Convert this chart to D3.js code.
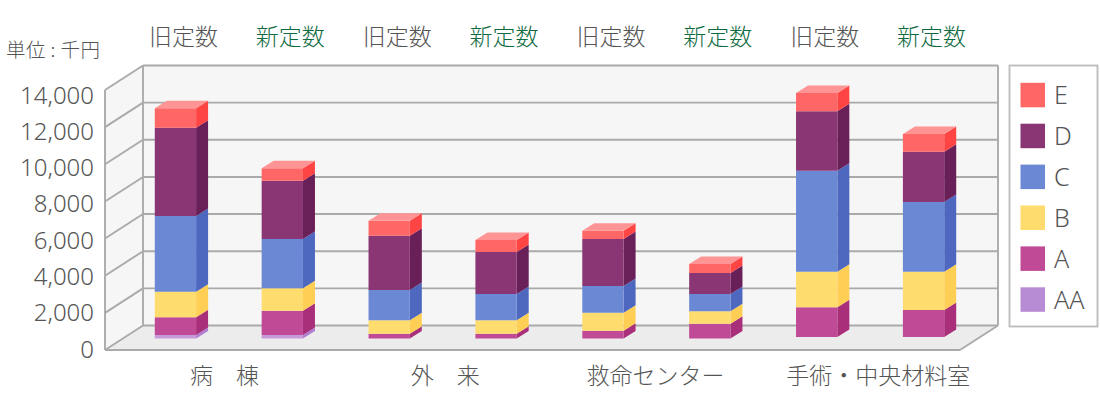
<!DOCTYPE html>
<html><head><meta charset="utf-8">
<script src="https://d3js.org/d3.v7.min.js"></script>
<style>
html,body{margin:0;padding:0;background:#fff}
svg{display:block}
text{font-family:"Noto Sans CJK JP","Noto Sans",sans-serif;font-weight:300;fill:#555}
</style></head><body><div id="c"></div>
<script>
const seriesNames=["AA","A","B","C","D","E"];
const barLabels=["旧定数","新定数","旧定数","新定数","旧定数","新定数","旧定数","新定数"];
const groupLabels=["病　棟","外　来","救命センター","手術・中央材料室"];
const groupLabelShift=[12.5,19.5,16,25];
const valuesAA=[190,190,0,0,0,0,0,0];
const valuesA=[950,1310,260,260,420,800,1600,1455];
const valuesB=[1380,1205,720,720,970,670,1915,2060];
const valuesC=[4075,2655,1630,1415,1440,930,5440,3755];
const valuesD=[4755,3140,2925,2260,2530,1130,3200,2710];
const valuesE=[1045,670,810,645,445,485,985,955];
const stackStart=[0,0,0,0,0,0,80,80];
const yTicks=[0,2000,4000,6000,8000,10000,12000,14000];
const colorsFront=["#c79bd9","#c04a96","#ffdc6e","#6a88d3","#8a3574","#ff6666"];
const colorsSide=["#b07fd0","#aa2f7a","#ffcf55","#4e68bf","#692058","#ff4444"];
const topColor="#ff9494";
const legendColors=["#b88cd4","#c04a96","#ffdc6e","#6a88d3","#8a3574","#ff6666"];

const W=1100,H=402;
const left=105,right=960,floorY=350,topY=90,dx=38,dy=-24.5;
const svg=d3.select("#c").append("svg").attr("width",W).attr("height",H);
const y=d3.scaleLinear().domain([0,14000]).range([floorY,topY]);
const yLabel=d3.scaleLinear().domain([0,14000]).range([348.5,94.5]);
const x=d3.scaleBand().domain(d3.range(8)).range([left,right]);
const grid="#aaa";
const poly=(pts,fill,stroke)=>svg.append("polygon").attr("points",pts.map(p=>p.join(",")).join(" "))
  .attr("fill",fill).attr("stroke",stroke||"none").attr("stroke-width",stroke?1:0);
// walls & floor
poly([[left+dx,y(14000)+dy],[right+dx,y(14000)+dy],[right+dx,y(0)+dy],[left+dx,y(0)+dy]],"#f6f6f6");
poly([[left,y(14000)],[left+dx,y(14000)+dy],[left+dx,y(0)+dy],[left,y(0)]],"#f6f6f6");
poly([[left,y(0)],[left+dx,y(0)+dy],[right+dx,y(0)+dy],[right,y(0)]],"#ececec");
const line=(x1,y1,x2,y2)=>svg.append("line").attr("x1",x1).attr("y1",y1).attr("x2",x2).attr("y2",y2)
  .attr("stroke",grid).attr("stroke-width",1.9);
yTicks.forEach(t=>{
  line(left+dx,y(t)+dy,right+dx,y(t)+dy);
  line(left,y(t),left+dx,y(t)+dy);
});
line(left,y(0),left,y(14000));
line(left+dx,y(0)+dy,left+dx,y(14000)+dy);
line(right+dx,y(0)+dy,right+dx,y(14000)+dy);
line(left,y(0),right,y(0));
line(right,y(0),right+dx,y(0)+dy);

// y axis labels
const yAxis=d3.axisLeft(yLabel).tickValues(yTicks).tickSize(0).tickPadding(0).tickFormat(d3.format(","));
const gy=svg.append("g").attr("transform",`translate(94,0)`).call(yAxis);
gy.select(".domain").remove();
gy.selectAll("text").attr("font-size",24).style("font-family",'"Noto Sans",sans-serif').attr("dy","0.36em");

// bars
const rows=d3.range(8).map(i=>({AA:valuesAA[i]+stackStart[i],A:valuesA[i],B:valuesB[i],C:valuesC[i],D:valuesD[i],E:valuesE[i]}));
const stacked=d3.stack().keys(seriesNames)(rows);
const barW=41.3,barDx=12,barDy=-7.5,offX=17,offY=-11.5;
const step=x.bandwidth();
d3.range(8).forEach(i=>{
  const bx=x(i)+(step-barW)/2+offX;
  stacked.forEach((s,k)=>{
    const lo=(k===0?stackStart[i]:s[i][0]), hi=s[i][1];
    if(hi<=lo) return;
    const y0=y(lo)+offY,y1=y(hi)+offY;
    poly([[bx+barW,y0],[bx+barW+barDx,y0+barDy],[bx+barW+barDx,y1+barDy],[bx+barW,y1]],colorsSide[k]);
    poly([[bx,y0],[bx+barW,y0],[bx+barW,y1],[bx,y1]],colorsFront[k]);
    if(k===stacked.length-1)
      poly([[bx,y1],[bx+barW,y1],[bx+barW+barDx,y1+barDy],[bx+barDx,y1+barDy]],topColor);
  });
  svg.append("text").attr("x",bx+barW/2+8).attr("y",37).attr("dy","0.36em").attr("text-anchor","middle")
    .attr("font-size",23).text(barLabels[i]).style("fill",i%2?"#0f6b3f":"#555");
});

// group labels
groupLabels.forEach((t,i)=>{
  svg.append("text").attr("x",x(i*2)+step+groupLabelShift[i]).attr("y",376).attr("dy","0.36em")
    .attr("text-anchor","middle").attr("font-size",23).text(t);
});
svg.append("text").attr("x",6).attr("y",49.5).attr("dy","0.36em").attr("font-size",19.5).text("単位 : 千円").attr("textLength",94).attr("lengthAdjust","spacing");

// legend
svg.append("rect").attr("x",1009.5).attr("y",65.5).attr("width",88).attr("height",261)
  .attr("fill","#fff").attr("stroke","#bbb").attr("stroke-width",1.8);
const legY=d3.scalePoint().domain(seriesNames.slice().reverse()).range([95,299.5]);
seriesNames.forEach((n,k)=>{
  svg.append("rect").attr("x",1020.5).attr("y",legY(n)-12.2).attr("width",24.5).attr("height",24.5).attr("fill",legendColors[k]);
  svg.append("text").attr("x",1054).attr("y",legY(n)).attr("dy","0.36em").attr("font-size",25)
    .style("font-family",'"Noto Sans",sans-serif').text(n);
});
</script></body></html>
